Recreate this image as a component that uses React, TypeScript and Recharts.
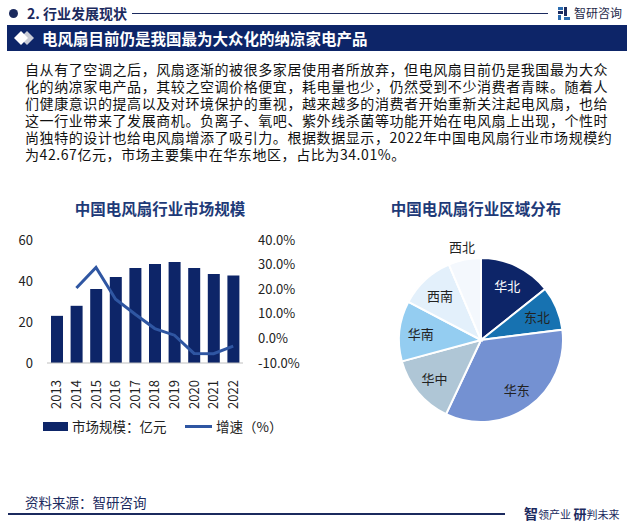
import React from 'react';
import {
  ComposedChart, Bar, Line, XAxis, YAxis, PieChart, Pie, Cell,
} from 'recharts';

const years = ['2013', '2014', '2015', '2016', '2017', '2018', '2019', '2020', '2021', '2022'];
const marketSize = [23.0, 27.9, 36.1, 42.0, 46.4, 48.3, 49.3, 46.4, 43.4, 42.67];
const growthRate = [null, 20.5, 28.8, 15.9, 9.8, 4.0, 1.3, -6.1, -6.2, -3.1];
const leftTicks = [0, 20, 40, 60];
const rightTicks = [-10, 0, 10, 20, 30, 40];

const regions = ['华北', '东北', '华东', '华中', '华南', '西南', '西北'];
const regionShare = [14.3, 8.7, 34.01, 13.8, 11.9, 10.9, 6.4];
const regionColors = ['#0D2568', '#1772B1', '#7491D2', '#AFC6D6', '#94CDF1', '#E3F0FB', '#F4F8FD'];

const paragraphLines = [
  '自从有了空调之后，风扇逐渐的被很多家居使用者所放弃，但电风扇目前仍是我国最为大众',
  '化的纳凉家电产品，其较之空调价格便宜，耗电量也少，仍然受到不少消费者青睐。随着人',
  '们健康意识的提高以及对环境保护的重视，越来越多的消费者开始重新关注起电风扇，也给',
  '这一行业带来了发展商机。负离子、氧吧、紫外线杀菌等功能开始在电风扇上出现，个性时',
  '尚独特的设计也给电风扇增添了吸引力。根据数据显示，2022年中国电风扇行业市场规模约',
  '为42.67亿元，市场主要集中在华东地区，占比为34.01%。',
];

const barData = years.map((y, i) => ({ year: y, size: marketSize[i], growth: growthRate[i] }));
const pieData = regions.map((r, i) => ({ name: r, value: regionShare[i] }));

const NAVY = '#0D2568';
const FONT = '"Noto Sans CJK SC", "Noto Sans", sans-serif';

const YearTick = (props: any) => {
  const { x, y, payload } = props;
  return (
    <g transform={`translate(${x},${y + 9})`}>
      <text transform="rotate(-90)" textAnchor="end" dy="0.36em" fontSize={13} fill="#222" fontFamily={FONT}>
        {payload.value}
      </text>
    </g>
  );
};

const RADIAN = Math.PI / 180;
const renderPieLabel = (props: any) => {
  const { cx, cy, midAngle, outerRadius, index } = props;
  const outside = index === 6;
  const r = outside ? outerRadius + 13 : outerRadius * 0.74;
  const x = cx + r * Math.cos(-midAngle * RADIAN);
  const y = cy + r * Math.sin(-midAngle * RADIAN);
  return (
    <text x={x} y={y} textAnchor="middle" dominantBaseline="central" fontSize={13}
      fill={index === 0 ? '#fff' : '#222'} fontFamily={FONT}>
      {regions[index]}
    </text>
  );
};

export default function App() {
  return (
    <div style={{ position: 'absolute', left: 0, top: 0, width: 633, height: 524, background: '#fff', fontFamily: FONT, overflow: 'hidden' }}>
      {/* Header */}
      <div style={{ position: 'absolute', left: 9, top: 9, width: 9, height: 9, borderRadius: 5, background: '#1B2A5E' }} />
      <div style={{ position: 'absolute', left: 27, top: 3, fontSize: 14, fontWeight: 700, color: '#1B2A5E', lineHeight: '20px', whiteSpace: 'nowrap' }}>
        2. 行业发展现状
      </div>
      <div style={{ position: 'absolute', left: 132, top: 13, width: 416, height: 1, background: '#1B2A5E' }} />
      <svg style={{ position: 'absolute', left: 558, top: 7 }} width={12} height={13}>
        <rect x={0} y={0} width={5} height={3} fill="#2B6CB0" />
        <rect x={0} y={4} width={5} height={3} fill="#1B2A5E" />
        <rect x={0} y={8} width={3} height={5} fill="#2B6CB0" />
        <rect x={6} y={0} width={3} height={9} fill="#1B2A5E" />
        <rect x={6} y={10} width={6} height={3} fill="#2B6CB0" />
      </svg>
      <div style={{ position: 'absolute', left: 574, top: 4, fontSize: 12, color: '#1E2A4A', lineHeight: '18px', whiteSpace: 'nowrap' }}>
        智研咨询
      </div>

      {/* Banner */}
      <div style={{ position: 'absolute', left: 7, top: 25, width: 620, height: 26, background: NAVY }} />
      <svg style={{ position: 'absolute', left: 14, top: 31 }} width={22} height={14}>
        <polygon points="13,0 20,7 13,14 6,7" fill="#C9CCD6" />
        <polygon points="7,0 14,7 7,14 0,7" fill="#fff" />
      </svg>
      <div style={{ position: 'absolute', left: 42, top: 27, fontSize: 15.5, fontWeight: 700, color: '#fff', lineHeight: '22px', whiteSpace: 'nowrap' }}>
        电风扇目前仍是我国最为大众化的纳凉家电产品
      </div>

      {/* Paragraph */}
      {paragraphLines.map((line, i) => (
        <div key={i} style={{ position: 'absolute', left: 25, top: 60.5 + i * 17.1, fontSize: 14, letterSpacing: '0.58px', color: '#111', lineHeight: '16px', whiteSpace: 'nowrap' }}>
          {line}
        </div>
      ))}

      {/* Bar chart title */}
      <div style={{ position: 'absolute', left: 60, width: 200, top: 198, textAlign: 'center', fontSize: 15.5, fontWeight: 700, color: '#1E3A78', lineHeight: '20px' }}>
        中国电风扇行业市场规模
      </div>

      <div style={{ position: 'absolute', left: 0, top: 225 }}>
        <ComposedChart width={300} height={185} data={barData} margin={{ top: 15, right: 0, bottom: 2, left: 0 }}>
          <XAxis dataKey="year" interval={0} tickLine={false} axisLine={{ stroke: '#BFBFBF' }} height={45} tick={<YearTick />} />
          <YAxis yAxisId="left" orientation="left" width={47} domain={[0, 60]} ticks={leftTicks}
            axisLine={false} tickLine={false} tickSize={0} tickMargin={14}
            tick={{ fontSize: 13, fill: '#222', fontFamily: FONT }} />
          <YAxis yAxisId="right" orientation="right" width={57} domain={[-10, 40]} ticks={rightTicks}
            axisLine={false} tickLine={false} tickSize={0} tickMargin={15}
            tickFormatter={(v: number) => `${v.toFixed(1)}%`}
            tick={{ fontSize: 13, fill: '#222', fontFamily: FONT, textAnchor: 'start' }} />
          <Bar yAxisId="left" dataKey="size" fill={NAVY} barSize={12} isAnimationActive={false} />
          <Line yAxisId="right" dataKey="growth" type="linear" stroke="#2F56A2" strokeWidth={3} dot={false} activeDot={false} connectNulls isAnimationActive={false} />
        </ComposedChart>
      </div>

      {/* Legend */}
      <div style={{ position: 'absolute', left: 43, top: 422, width: 25, height: 9, background: NAVY }} />
      <div style={{ position: 'absolute', left: 72, top: 416, fontSize: 13.5, color: '#222', lineHeight: '20px', whiteSpace: 'nowrap' }}>市场规模：亿元</div>
      <div style={{ position: 'absolute', left: 185, top: 425, width: 27, height: 3, background: '#2F56A2' }} />
      <div style={{ position: 'absolute', left: 216, top: 416, fontSize: 13.5, color: '#222', lineHeight: '20px', whiteSpace: 'nowrap' }}>增速（%）</div>

      {/* Pie title */}
      <div style={{ position: 'absolute', left: 376, width: 200, top: 198, textAlign: 'center', fontSize: 15.5, fontWeight: 700, color: '#1E3A78', lineHeight: '20px' }}>
        中国电风扇行业区域分布
      </div>

      <div style={{ position: 'absolute', left: 370, top: 190 }}>
        <PieChart width={263} height={240}>
          <Pie data={pieData} dataKey="value" nameKey="name" cx={106} cy={145} outerRadius={82}
            startAngle={90} endAngle={-270} stroke="#fff" strokeWidth={2}
            label={renderPieLabel} labelLine={false} isAnimationActive={false}>
            {pieData.map((d, i) => (
              <Cell key={d.name} fill={regionColors[i]} />
            ))}
          </Pie>
        </PieChart>
      </div>

      {/* Footer */}
      <div style={{ position: 'absolute', left: 25, top: 493, fontSize: 13.5, color: '#1B2A5E', lineHeight: '18px', whiteSpace: 'nowrap' }}>
        资料来源：智研咨询
      </div>
      <div style={{ position: 'absolute', left: 8, top: 513, width: 497, height: 1.5, background: '#1B2A5E' }} />
      <div style={{ position: 'absolute', left: 524, top: 503, color: '#1B2A5E', lineHeight: '18px', whiteSpace: 'nowrap' }}>
        <span style={{ fontSize: 14, fontWeight: 700 }}>智</span>
        <span style={{ fontSize: 11 }}>领产业 </span>
        <span style={{ fontSize: 13, fontWeight: 700 }}>研</span>
        <span style={{ fontSize: 11 }}>判未来</span>
      </div>
    </div>
  );
}
